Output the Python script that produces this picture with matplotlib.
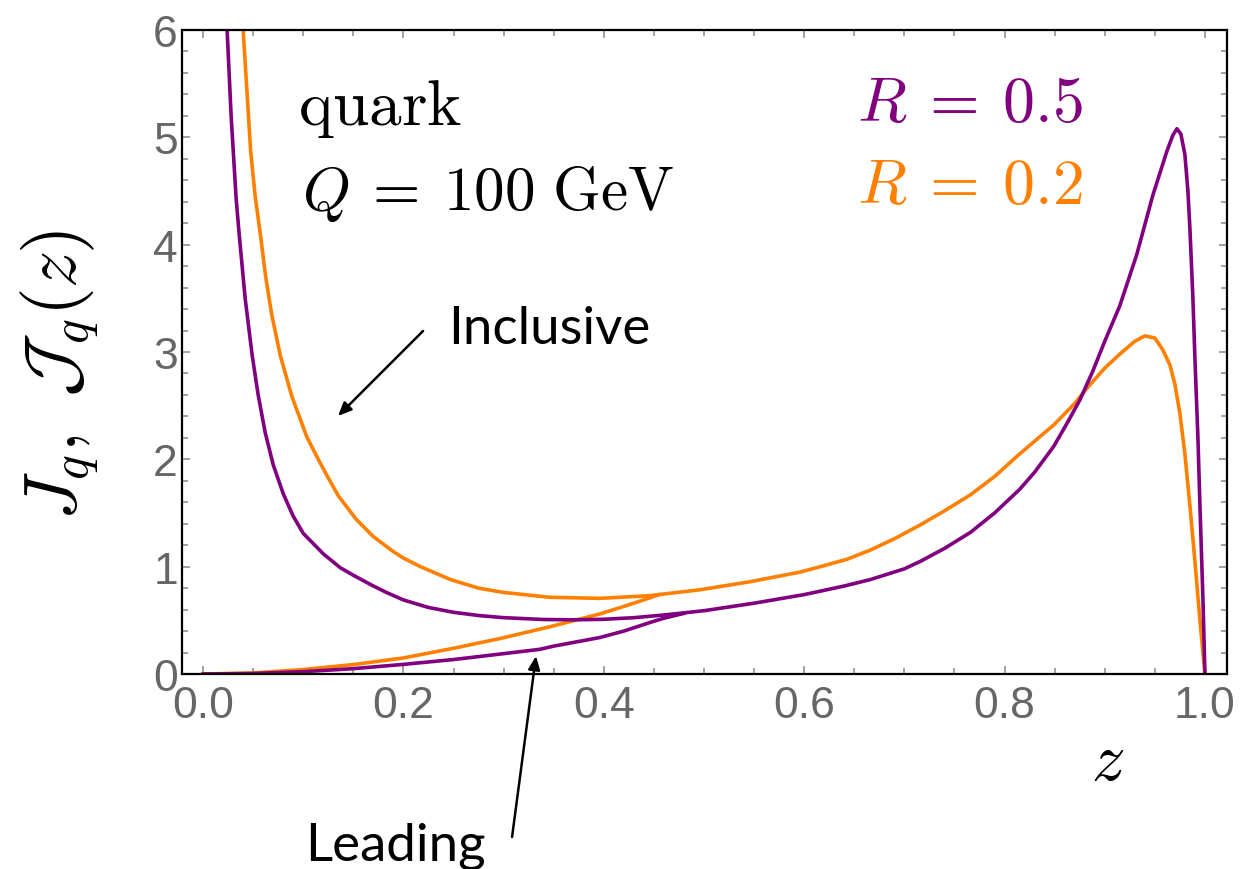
import numpy as np
import matplotlib.pyplot as plt
from matplotlib.ticker import MultipleLocator

plt.rcParams['mathtext.fontset'] = 'cm'

# ---- data ----
# inclusive, R = 0.5
z_inc_r5 = [0.024, 0.028, 0.033, 0.036, 0.042, 0.049, 0.055, 0.062, 0.070, 0.080,
            0.090, 0.100, 0.120, 0.137, 0.150, 0.170, 0.183, 0.200, 0.225, 0.250,
            0.275, 0.300, 0.340, 0.370, 0.400, 0.430, 0.460, 0.500, 0.550, 0.600,
            0.640, 0.666, 0.700, 0.716, 0.740, 0.766, 0.790, 0.815, 0.830, 0.849,
            0.862, 0.875, 0.888, 0.900, 0.915, 0.932, 0.948, 0.962, 0.968, 0.972,
            0.976, 0.980, 0.983, 0.985, 0.988, 0.990, 0.993, 0.995, 0.998, 1.000]
j_inc_r5 = [6.00, 5.20, 4.43, 4.10, 3.50, 2.97, 2.60, 2.25, 1.95, 1.68,
            1.47, 1.31, 1.12, 0.99, 0.92, 0.82, 0.76, 0.69, 0.62, 0.575,
            0.545, 0.525, 0.508, 0.505, 0.51, 0.525, 0.55, 0.59, 0.66, 0.74,
            0.82, 0.88, 0.98, 1.05, 1.17, 1.32, 1.50, 1.72, 1.88, 2.12,
            2.33, 2.55, 2.82, 3.10, 3.43, 3.91, 4.46, 4.87, 5.02, 5.08,
            5.03, 4.84, 4.50, 4.15, 3.50, 2.94, 2.20, 1.57, 0.70, 0.00]

# inclusive, R = 0.2
z_inc_r2 = [0.040, 0.0475, 0.052, 0.057, 0.0625, 0.0685, 0.077, 0.0885, 0.1035, 0.115,
            0.123, 0.135, 0.153, 0.170, 0.190, 0.200, 0.217, 0.247, 0.275, 0.300,
            0.346, 0.396, 0.446, 0.496, 0.546, 0.596, 0.616, 0.643, 0.666, 0.690,
            0.716, 0.740, 0.766, 0.790, 0.815, 0.849, 0.870, 0.882, 0.900, 0.915,
            0.930, 0.940, 0.950, 0.958, 0.965, 0.970, 0.975, 0.980, 0.985, 0.990,
            0.995, 1.000]
j_inc_r2 = [6.00, 4.87, 4.45, 4.11, 3.70, 3.35, 2.97, 2.59, 2.21, 2.00,
            1.86, 1.66, 1.44, 1.28, 1.14, 1.08, 1.00, 0.88, 0.80, 0.76,
            0.715, 0.705, 0.73, 0.785, 0.86, 0.95, 1.00, 1.07, 1.155, 1.26,
            1.39, 1.52, 1.67, 1.84, 2.05, 2.32, 2.52, 2.66, 2.85, 2.98,
            3.10, 3.15, 3.13, 3.02, 2.88, 2.70, 2.43, 2.05, 1.57, 1.05,
            0.50, 0.00]

# leading (joins the inclusive curve at larger z)
z_lead_r5 = [0.0, 0.05, 0.10, 0.15, 0.20, 0.25, 0.30, 0.336, 0.35, 0.396, 0.42, 0.446, 0.46, 0.48]
j_lead_r5 = [0.0, 0.005, 0.022, 0.05, 0.09, 0.135, 0.19, 0.23, 0.26, 0.34, 0.40, 0.48, 0.52, 0.565]

z_lead_r2 = [0.0, 0.05, 0.10, 0.15, 0.20, 0.25, 0.296, 0.346, 0.396, 0.42, 0.446, 0.455]
j_lead_r2 = [0.0, 0.01, 0.042, 0.088, 0.15, 0.24, 0.33, 0.44, 0.56, 0.63, 0.71, 0.74]

PURPLE = '#800080'
ORANGE = '#FF8000'
TICK_GRAY = '#666666'

fig = plt.figure(figsize=(12.4, 8.7), dpi=100)
ax = fig.add_axes([0.1468, 0.2241, 0.8427, 0.7403])

lw = 2.6
ax.plot(z_inc_r2, j_inc_r2, color=ORANGE, lw=lw, solid_joinstyle='round')
ax.plot(z_lead_r2, j_lead_r2, color=ORANGE, lw=lw)
ax.plot(z_inc_r5, j_inc_r5, color=PURPLE, lw=lw, solid_joinstyle='round')
ax.plot(z_lead_r5, j_lead_r5, color=PURPLE, lw=lw)

ax.set_xlim(-0.021, 1.022)
ax.set_ylim(0, 6)

ax.xaxis.set_major_locator(MultipleLocator(0.2))
ax.xaxis.set_minor_locator(MultipleLocator(0.05))
ax.yaxis.set_major_locator(MultipleLocator(1))
ax.yaxis.set_minor_locator(MultipleLocator(0.2))
ax.xaxis.set_major_formatter(plt.FuncFormatter(lambda v, p: f'{v:.1f}'))

ax.tick_params(which='both', direction='in', top=True, right=True,
               color='#888888', width=1.1)
ax.tick_params(which='major', length=6)
ax.tick_params(which='minor', length=4)
ax.tick_params(axis='x', which='major', pad=8)
ax.tick_params(axis='y', which='major', pad=3)
for lab in ax.get_xticklabels() + ax.get_yticklabels():
    lab.set_fontfamily('Liberation Sans')
    lab.set_fontsize(32)
    lab.set_color(TICK_GRAY)

for s in ax.spines.values():
    s.set_linewidth(1.6)
    s.set_color('black')

# texts
ax.text(0.0948, 5.12, r'$\mathrm{quark}$', fontsize=47, va='baseline', ha='left')
ax.text(0.0985, 4.33, r'$Q\:=\:100\ \mathrm{GeV}$', fontsize=44, va='baseline', ha='left')
ax.text(0.653, 5.155, r'$R\:=\:0.5$', fontsize=46, va='baseline', ha='left', color=PURPLE)
ax.text(0.653, 4.39, r'$R\:=\:0.2$', fontsize=46, va='baseline', ha='left', color=ORANGE)

ax.text(0.245, 3.08, 'Inclusive', fontsize=38, family='Lato', va='baseline', ha='left')
ax.text(0.1018, -1.724, 'Leading', fontsize=38, family='Lato', va='baseline', ha='left',
        clip_on=False)

ax.annotate('', xy=(0.1347, 2.404), xytext=(0.2196, 3.196),
            arrowprops=dict(arrowstyle='-|>,head_length=0.8,head_width=0.35',
                            color='black', lw=1.8, shrinkA=0, shrinkB=0))
ax.annotate('', xy=(0.3323, 0.168), xytext=(0.3084, -1.519), annotation_clip=False,
            arrowprops=dict(arrowstyle='-|>,head_length=0.8,head_width=0.35',
                            color='black', lw=1.8, shrinkA=0, shrinkB=0))

ax.text(0.903, -0.978, r'$z$', fontsize=48, va='baseline', ha='center', clip_on=False)
fig.text(60 / 1240, 1 - 375 / 870, r'$J_q,\ \mathcal{J}_q(z)$', fontsize=53,
         rotation=90, ha='center', va='center')

fig.savefig('out.png', dpi=100)
